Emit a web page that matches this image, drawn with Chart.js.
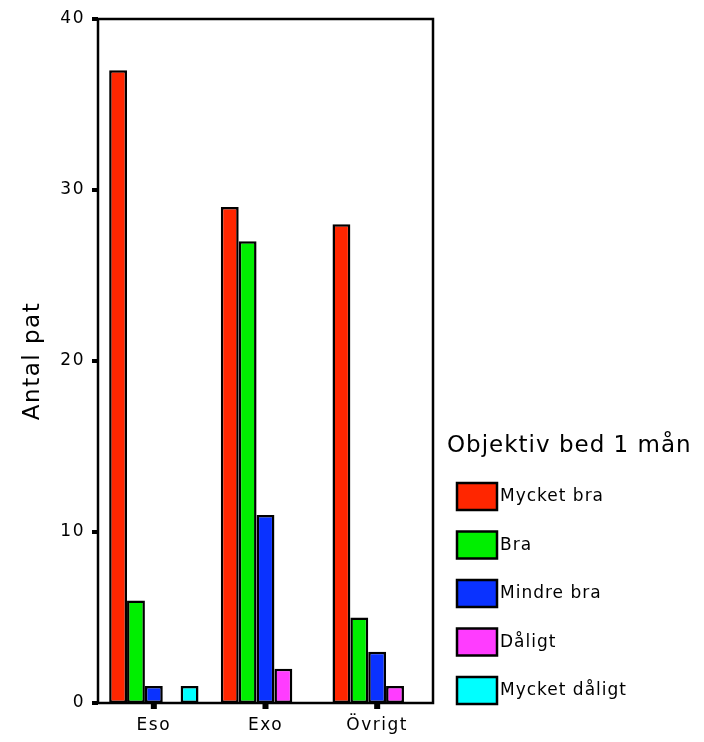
<!DOCTYPE html>
<html lang="sv">
<head>
<meta charset="UTF-8" />
<title>Objektiv bed 1 mån</title>
<script src="https://cdn.jsdelivr.net/npm/chart.js"></script>
<style>
  body { margin: 0; background: #fff; }
  #wrap { width: 704px; height: 742px; }
</style>
</head>
<body>
<div id="wrap"><canvas id="chart" width="704" height="742"></canvas></div>
<script>
  const categories = ['Eso', 'Exo', 'Övrigt'];
  const seriesNames = ['Mycket bra', 'Bra', 'Mindre bra', 'Dåligt', 'Mycket dåligt'];
  const mycketBra = [37, 29, 28];
  const bra = [6, 27, 5];
  const mindreBra = [1, 11, 3];
  const daligt = [0, 2, 1];
  const mycketDaligt = [1, 0, 0];
  const yTicks = [0, 10, 20, 30, 40];
  const colors = ['#ff2600', '#00ef00', '#0a32ff', '#ff3cff', '#00ffff'];
  const legendTitle = 'Objektiv bed 1 mån';

  const seriesValues = [mycketBra, bra, mindreBra, daligt, mycketDaligt];
  const font = "'DejaVu Sans', sans-serif";

  // wider letter spacing, like the original screen font
  const spacingPlugin = {
    id: 'spacing',
    beforeDraw(chart) { chart.ctx.letterSpacing = '1.5px'; }
  };

  // frame, tick marks and legend drawn on canvas
  const framePlugin = {
    id: 'frame',
    afterDraw(chart) {
      const ctx = chart.ctx;
      const a = chart.chartArea;
      const x = chart.scales.x, y = chart.scales.y;
      ctx.save();
      ctx.strokeStyle = '#000';
      ctx.lineWidth = 2.5;
      ctx.strokeRect(a.left, a.top, a.right - a.left, a.bottom - a.top);
      ctx.fillStyle = '#000';
      yTicks.forEach(v => {
        const py = y.getPixelForValue(v);
        ctx.fillRect(a.left - 6, py - 2, 6, 4);
      });
      categories.forEach((c, i) => {
        const px = x.getPixelForValue(i);
        ctx.fillRect(px - 3, a.bottom, 6, 6);
      });

      // legend
      ctx.letterSpacing = '1px';
      ctx.textBaseline = 'middle';
      ctx.textAlign = 'left';
      ctx.font = '23px ' + font;
      ctx.fillText(legendTitle, 447, 446);
      ctx.font = '17px ' + font;
      chart.data.datasets.forEach((ds, i) => {
        const top = 483 + i * 48.5;
        ctx.fillStyle = ds.backgroundColor;
        ctx.fillRect(457, top, 40, 27);
        ctx.strokeStyle = '#000';
        ctx.lineWidth = 2.5;
        ctx.strokeRect(457, top, 40, 27);
        ctx.fillStyle = '#000';
        ctx.fillText(ds.label, 500, top + 14);
      });
      ctx.restore();
    }
  };

  new Chart(document.getElementById('chart'), {
    type: 'bar',
    data: {
      labels: categories,
      datasets: seriesNames.map((name, i) => ({
        label: name,
        data: seriesValues[i].map(v => v === 0 ? null : v),
        backgroundColor: colors[i],
        borderColor: '#000',
        borderWidth: 2.5,
        borderSkipped: false,
        categoryPercentage: 0.8,
        barPercentage: 1
      }))
    },
    options: {
      responsive: false,
      animation: false,
      layout: { padding: { top: 19, right: 271, left: 0, bottom: 0 } },
      plugins: {
        legend: { display: false },
        tooltip: { enabled: false }
      },
      scales: {
        x: {
          grid: { display: false, drawTicks: false },
          border: { display: false },
          ticks: { color: '#000', font: { family: font, size: 17 }, padding: 12 },
          afterFit(s) { s.height = 39; }
        },
        y: {
          min: 0,
          max: 40,
          grid: { display: false, drawTicks: false },
          border: { display: false },
          ticks: {
            stepSize: 10,
            color: '#000',
            font: { family: font, size: 17 },
            padding: 13
          },
          title: {
            display: true,
            text: 'Antal pat',
            color: '#000',
            font: { family: font, size: 23 },
            padding: { top: 19, bottom: 0 }
          },
          afterFit(s) { s.width = 98; s.paddingTop = 0; s.paddingBottom = 0; }
        }
      }
    },
    plugins: [spacingPlugin, framePlugin]
  });
</script>
</body>
</html>
